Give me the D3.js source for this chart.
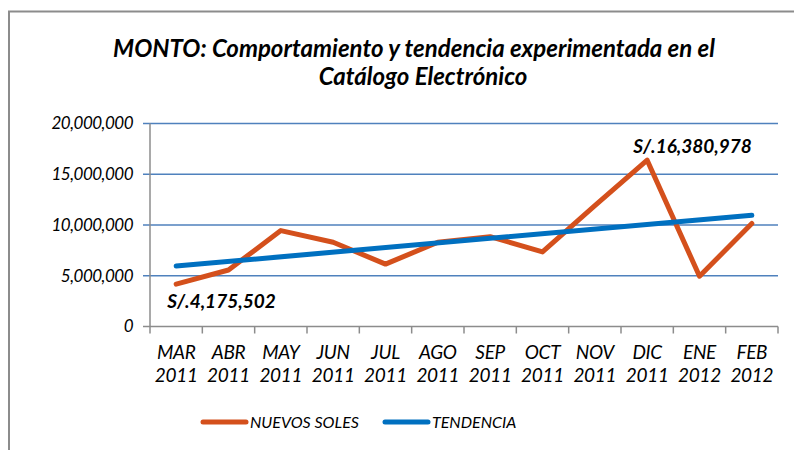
<!DOCTYPE html>
<html>
<head>
<meta charset="utf-8">
<script src="https://cdn.jsdelivr.net/npm/d3@7"></script>
<style>
  body { margin: 0; background: #fff; }
  svg { display: block; font-family: Lato, "Open Sans", sans-serif; }
</style>
</head>
<body>
<div class="chart"></div>
<script>
var width = 794;
var height = 450;

// data
var months = ["MAR", "ABR", "MAY", "JUN", "JUL", "AGO", "SEP", "OCT", "NOV", "DIC", "ENE", "FEB"];
var years = ["2011", "2011", "2011", "2011", "2011", "2011", "2011", "2011", "2011", "2011", "2012", "2012"];
var categories = months.map(function(m, i){ return m + " " + years[i] });
var nuevosSoles = [4175502, 5570000, 9450000, 8300000, 6150000, 8300000, 8850000, 7350000, 11900000, 16380978, 4950000, 10150000];
// linear trend, start and end values
var trendCats = ["MAR 2011", "FEB 2012"];
var trendValues = [5960000, 10960000];
var yTicks = [0, 5000000, 10000000, 15000000, 20000000];

var orange = "#d4501c";
var blue = "#0070c0";
var gridColor = "#4f81bd";
var axisColor = "#8c8c8c";

var svg = d3.select("div.chart").append("svg")
    .attr("width", width)
    .attr("height", height);

// chart frame (cropped at right and bottom)
svg.append("path")
    .attr("d", "M9,460 L9,11.5 L800,11.5")
    .attr("fill", "none")
    .attr("stroke", axisColor)
    .attr("stroke-width", 2);

// title
svg.append("text")
    .attr("x", 414).attr("y", 57)
    .attr("text-anchor", "middle")
    .style("font-size", "24px").style("font-weight", "bold").style("font-style", "italic")
    .text("MONTO: Comportamiento y tendencia experimentada en el");
svg.append("text")
    .attr("x", 423).attr("y", 85)
    .attr("text-anchor", "middle")
    .style("font-size", "24px").style("font-weight", "bold").style("font-style", "italic")
    .text("Catálogo Electrónico");

var x = d3.scaleBand().domain(categories).range([150, 778]).padding(0);
var y = d3.scaleLinear().domain([0, 20000000]).range([326.5, 123.5]);
var cx = function(c){ return x(c) + x.bandwidth() / 2 };

// gridlines
svg.append("g").selectAll("line").data(yTicks.slice(1)).enter()
    .append("line")
    .attr("x1", 143).attr("x2", 778)
    .attr("y1", function(d){ return y(d) }).attr("y2", function(d){ return y(d) })
    .attr("stroke", gridColor)
    .attr("stroke-width", 1.5);

// y axis
svg.append("line")
    .attr("x1", 150).attr("x2", 150)
    .attr("y1", y(20000000)).attr("y2", y(0))
    .attr("stroke", axisColor).attr("stroke-width", 1.5);

svg.append("g").selectAll("text").data(yTicks).enter()
    .append("text")
    .attr("x", 133)
    .attr("y", function(d){ return y(d) })
    .attr("dy", "0.35em")
    .attr("text-anchor", "end")
    .style("font-size", "17px").style("font-style", "italic")
    .style("letter-spacing", "-0.5px")
    .text(function(d){ return d3.format(",")(d) });

// x axis
svg.append("line")
    .attr("x1", 143).attr("x2", 778)
    .attr("y1", y(0)).attr("y2", y(0))
    .attr("stroke", axisColor).attr("stroke-width", 1.5);

var tickPos = categories.map(function(c){ return x(c) }).concat([x.range()[1]]);
svg.append("g").selectAll("line").data(tickPos).enter()
    .append("line")
    .attr("x1", function(d){ return d }).attr("x2", function(d){ return d })
    .attr("y1", y(0)).attr("y2", y(0) + 7)
    .attr("stroke", axisColor).attr("stroke-width", 1.5);

var xl = svg.append("g").selectAll("text").data(categories).enter()
    .append("text")
    .attr("text-anchor", "middle")
    .style("font-size", "19px").style("font-style", "italic")
    .style("letter-spacing", "-0.3px");
xl.append("tspan")
    .attr("x", function(d){ return cx(d) }).attr("y", 359)
    .text(function(d, i){ return months[i] });
xl.append("tspan")
    .attr("x", function(d){ return cx(d) }).attr("y", 382)
    .text(function(d, i){ return years[i] });

// series
var line = d3.line()
    .x(function(d){ return cx(d.c) })
    .y(function(d){ return y(d.v) });

svg.append("path")
    .datum(categories.map(function(c, i){ return {c: c, v: nuevosSoles[i]} }))
    .attr("d", line)
    .attr("fill", "none")
    .attr("stroke", orange)
    .attr("stroke-width", 5)
    .attr("stroke-linecap", "round")
    .attr("stroke-linejoin", "round");

svg.append("path")
    .datum(trendCats.map(function(c, i){ return {c: c, v: trendValues[i]} }))
    .attr("d", line)
    .attr("fill", "none")
    .attr("stroke", blue)
    .attr("stroke-width", 5)
    .attr("stroke-linecap", "round");

// data labels on min and max
var iMin = 0, iMax = 9;
svg.append("text")
    .attr("x", cx(categories[iMin]) - 9)
    .attr("y", y(nuevosSoles[iMin]) + 24)
    .style("font-size", "19px").style("font-weight", "bold").style("font-style", "italic")
    .text("S/." + d3.format(",")(nuevosSoles[iMin]));
svg.append("text")
    .attr("x", cx(categories[iMax]) - 14)
    .attr("y", y(nuevosSoles[iMax]) - 7)
    .style("font-size", "19px").style("font-weight", "bold").style("font-style", "italic")
    .text("S/." + d3.format(",")(nuevosSoles[iMax]));

// legend
var legend = [
  {name: "NUEVOS SOLES", color: orange, x: 203},
  {name: "TENDENCIA", color: blue, x: 385}
];
var lg = svg.append("g").selectAll("g").data(legend).enter().append("g");
lg.append("line")
    .attr("x1", function(d){ return d.x }).attr("x2", function(d){ return d.x + 43 })
    .attr("y1", 422).attr("y2", 422)
    .attr("stroke", function(d){ return d.color })
    .attr("stroke-width", 5)
    .attr("stroke-linecap", "round");
lg.append("text")
    .attr("x", function(d){ return d.x + 47 })
    .attr("y", 422).attr("dy", "0.35em")
    .style("font-size", "16px").style("font-style", "italic")
    .text(function(d){ return d.name });
</script>
</body>
</html>
